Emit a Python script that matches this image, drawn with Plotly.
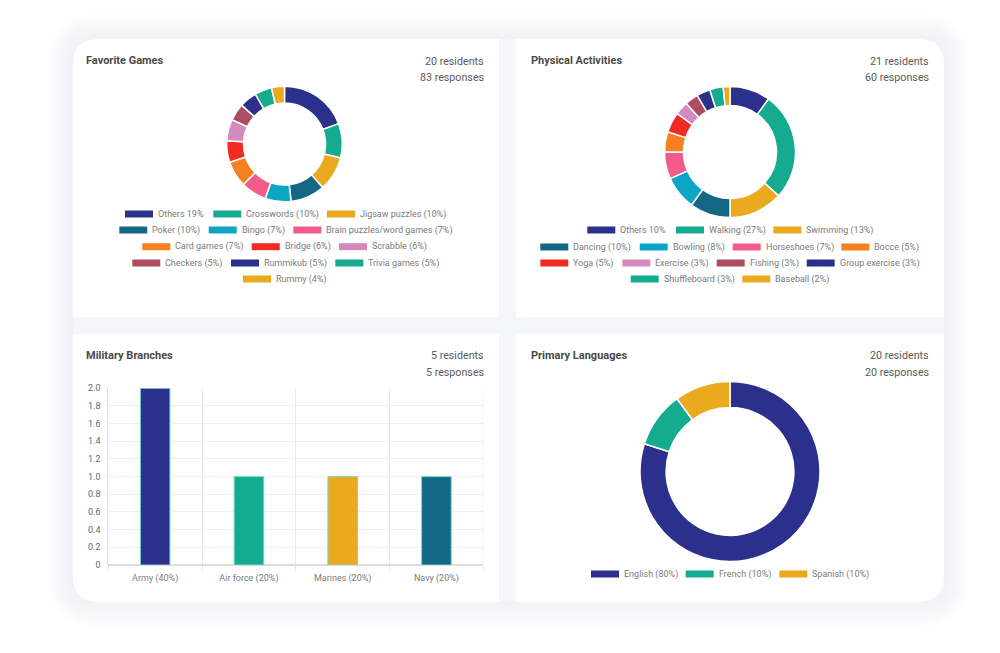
# Resident survey dashboard: three donuts and one bar chart on four white cards
import plotly.graph_objects as go

W = 1000
H = 653

NAVY = "#2a308c"
TEAL = "#14ab8f"
YELLOW = "#eba91f"
PETROL = "#146784"
CYAN = "#0ba5c5"
PINK = "#f35b8a"
ORANGE = "#f78020"
RED = "#f12b24"
LILAC = "#d48abd"
ROSE = "#ae4c61"
slice_colors = [NAVY, TEAL, YELLOW, PETROL, CYAN, PINK, ORANGE, RED, LILAC, ROSE, NAVY, TEAL, YELLOW]

# Favorite Games (83 responses)
games_labels = ["Others 19%", "Crosswords (10%)", "Jigsaw puzzles (10%)", "Poker (10%)", "Bingo (7%)",
                "Brain puzzles/word games (7%)", "Card games (7%)", "Bridge (6%)", "Scrabble (6%)",
                "Checkers (5%)", "Rummikub (5%)", "Trivia games (5%)", "Rummy (4%)"]
games_values = [16, 8, 8, 8, 6, 6, 6, 5, 5, 4, 4, 4, 3]

# Physical Activities (60 responses)
activity_labels = ["Others 10%", "Walking (27%)", "Swimming (13%)", "Dancing (10%)", "Bowling (8%)",
                   "Horseshoes (7%)", "Bocce (5%)", "Yoga (5%)", "Exercise (3%)", "Fishing (3%)",
                   "Group exercise (3%)", "Shuffleboard (3%)", "Baseball (2%)"]
activity_values = [6, 16, 8, 6, 5, 4, 3, 3, 2, 2, 2, 2, 1]

# Military Branches
branch_labels = ["Army (40%)", "Air force (20%)", "Marines (20%)", "Navy (20%)"]
branch_values = [2, 1, 1, 1]
branch_ticks = [0, 0.2, 0.4, 0.6, 0.8, 1.0, 1.2, 1.4, 1.6, 1.8, 2.0]
branch_ticktext = ["0", "0.2", "0.4", "0.6", "0.8", "1.0", "1.2", "1.4", "1.6", "1.8", "2.0"]

# Primary Languages
language_labels = ["English (80%)", "French (10%)", "Spanish (10%)"]
language_values = [16, 2, 2]

# Card texts: title, residents, responses
card_texts = [("Favorite Games", "20 residents", "83 responses"),
              ("Physical Activities", "21 residents", "60 responses"),
              ("Military Branches", "5 residents", "5 responses"),
              ("Primary Languages", "20 residents", "20 responses")]

# Pixel layout of the cards: left, top, right, bottom, rounded corner, title inset
cards = [(73, 39, 499, 317, "tl", 11), (516, 39, 944, 317, "tr", 13),
         (73, 334, 499, 602, "bl", 11), (516, 334, 944, 602, "br", 13)]

# Legend rows as (y, [left edge of each swatch]), entries are taken in order
games_rows = [(214, [125, 213.3, 327]), (230, [119.3, 208.7, 293.3]), (246.7, [142.3, 251.7, 339]),
              (263, [132.3, 231, 335.3]), (279, [243])]
activity_rows = [(230, [587.3, 676, 773.3]), (247, [540.3, 639.7, 732.7, 841.3]),
                 (263, [540.3, 622.3, 716.7, 806.7]), (279, [630.7, 742.3])]
language_rows = [(574, [591, 685.7, 779.3])]


def px(x):
    return x / W


def py(y):
    return 1 - y / H


def rounded_rect(x0, y0, x1, y1, corners, r=26):
    # svg path in paper coordinates, corners holds the ones that get rounded
    xa, xb, ya, yb = px(x0), px(x1), py(y0), py(y1)
    rx, ry = px(r), r / H
    path = f"M {xa} {ya-ry} Q {xa} {ya} {xa+rx} {ya} " if "tl" in corners else f"M {xa} {ya} "
    path += f"L {xb-rx} {ya} Q {xb} {ya} {xb} {ya-ry} " if "tr" in corners else f"L {xb} {ya} "
    path += f"L {xb} {yb+ry} Q {xb} {yb} {xb-rx} {yb} " if "br" in corners else f"L {xb} {yb} "
    path += f"L {xa+rx} {yb} Q {xa} {yb} {xa} {yb+ry} Z" if "bl" in corners else f"L {xa} {yb} Z"
    return path


def donut(labels, values, cx, cy, radius, hole):
    return go.Pie(labels=labels, values=values, hole=hole, sort=False, direction="clockwise", rotation=0,
                  textinfo="none", showlegend=False,
                  marker=dict(colors=slice_colors[:len(values)], line=dict(color="white", width=1.5)),
                  domain=dict(x=[px(cx - radius), px(cx + radius)], y=[py(cy + radius), py(cy - radius)]))


def add_legend(fig, labels, rows):
    i = 0
    for y, lefts in rows:
        for left in lefts:
            fig.add_shape(type="rect", xref="paper", yref="paper", x0=px(left), x1=px(left + 28),
                          y0=py(y + 3.5), y1=py(y - 3.5), fillcolor=slice_colors[i], line_width=0)
            fig.add_annotation(text=labels[i], xref="paper", yref="paper", x=px(left + 31), y=py(y),
                               xanchor="left", yanchor="middle", showarrow=False,
                               font=dict(family="Roboto", size=9, color="#7b7b7b"))
            i += 1


fig = go.Figure()

fig.add_trace(donut(games_labels, games_values, 284.5, 144, 57.8, 0.71))
fig.add_trace(donut(activity_labels, activity_values, 730, 152, 65.5, 0.71))
fig.add_trace(donut(language_labels, language_values, 730, 471.5, 90, 0.71))

fig.add_trace(go.Bar(x=branch_labels, y=branch_values, width=0.315, showlegend=False,
                     marker=dict(color=[NAVY, TEAL, YELLOW, PETROL], line=dict(color="#6fd6c2", width=1))))

# soft shadow around the whole panel, built from stacked faint layers
all_corners = ("tl", "tr", "bl", "br")
for grow in range(24, 0, -3):
    fig.add_shape(type="path", xref="paper", yref="paper", layer="below", line_width=0,
                  fillcolor="#f1f2f5", opacity=0.12,
                  path=rounded_rect(73 - grow, 39 - grow, 944 + grow, 602 + grow, all_corners, 26 + grow))
# light panel behind the cards, the gaps between cards show through
fig.add_shape(type="path", xref="paper", yref="paper", layer="below", line_width=0, fillcolor="#f5f6f9",
              path=rounded_rect(73, 39, 944, 602, all_corners))
for x0, y0, x1, y1, corner, inset in cards:
    fig.add_shape(type="path", xref="paper", yref="paper", layer="below", line_width=0, fillcolor="white",
                  path=rounded_rect(x0, y0, x1, y1, (corner,)))

# closing gridline on the right of the bar plot
fig.add_shape(type="line", xref="x", yref="y", layer="below", x0=3.5, x1=3.5, y0=0, y1=2,
              line=dict(color="#e8e8e8", width=1))

for (title, residents, responses), (x0, y0, x1, y1, corner, inset) in zip(card_texts, cards):
    fig.add_annotation(text=f"<b>{title}</b>", xref="paper", yref="paper", x=px(x0 + inset), y=py(y0 + 21.5),
                       xanchor="left", yanchor="middle", showarrow=False,
                       font=dict(family="Roboto", size=11, color="#4a4a4a"))
    for text, dy in ((residents, 22), (responses, 38)):
        fig.add_annotation(text=text, xref="paper", yref="paper", x=px(x1 - 13), y=py(y0 + dy),
                           xanchor="right", yanchor="middle", showarrow=False,
                           font=dict(family="Roboto", size=10.7, color="#5a5a5a"))

add_legend(fig, games_labels, games_rows)
add_legend(fig, activity_labels, activity_rows)
add_legend(fig, language_labels, language_rows)

fig.update_layout(
    width=W, height=H, margin=dict(l=0, r=0, t=0, b=0, autoexpand=False),
    paper_bgcolor="white", plot_bgcolor="rgba(0,0,0,0)",
    xaxis=dict(domain=[px(108.3), px(483.3)], anchor="y", type="category", tickson="boundaries",
               range=[-0.5, 3.5], ticks="outside", ticklen=5, tickcolor="#e4e4e4", showgrid=True,
               gridcolor="#e8e8e8", ticklabelstandoff=6,
               tickfont=dict(family="Roboto", size=9, color="#7b7b7b"), showline=False, zeroline=False),
    yaxis=dict(domain=[py(565), py(388.3)], anchor="x", range=[0, 2], tickvals=branch_ticks,
               ticktext=branch_ticktext, showgrid=True, gridcolor="#efefef", zeroline=True,
               zerolinecolor="#dddddd", zerolinewidth=2, showline=True, linecolor="#dddddd",
               ticklabelstandoff=5, tickfont=dict(family="Roboto", size=9, color="#666666")),
)

# the page would otherwise add the browser's default body margin around the figure
fig.write_html("out.html", config={"displayModeBar": False},
               post_script="document.body.style.margin='0';")
